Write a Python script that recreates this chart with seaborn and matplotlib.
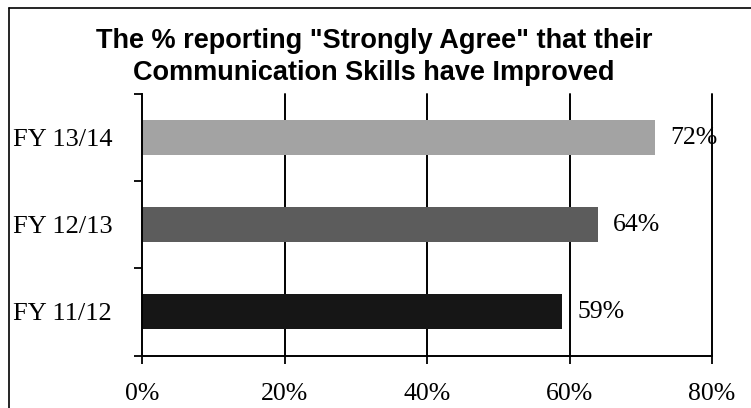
import matplotlib
matplotlib.use("Agg")
import matplotlib.pyplot as plt
from matplotlib.lines import Line2D
from matplotlib.ticker import FixedLocator
import seaborn as sns
import pandas as pd

# Survey results by fiscal year
years = ["FY 13/14", "FY 12/13", "FY 11/12"]
strongly_agree = [0.72, 0.64, 0.59]
value_labels = ["72%", "64%", "59%"]
x_ticks = [0.0, 0.2, 0.4, 0.6, 0.8]
x_tick_labels = ["0%", "20%", "40%", "60%", "80%"]
bar_colors = ["#a3a3a3", "#5c5c5c", "#161616"]

title = 'The % reporting "Strongly Agree" that their\nCommunication Skills have Improved'

sns.set_style("white")
plt.rcParams["font.family"] = ["Liberation Serif", "DejaVu Serif"]
plt.rcParams["text.color"] = "black"
plt.rcParams["xtick.color"] = "black"
plt.rcParams["ytick.color"] = "black"
plt.rcParams["axes.labelcolor"] = "black"

df = pd.DataFrame({"year": years, "pct": strongly_agree})

fig = plt.figure(figsize=(7.51, 4.08), dpi=100)
ax = fig.add_axes([142 / 751, 1 - 355.5 / 408, 570 / 751, 261.5 / 408])

# vertical gridlines behind the bars
for xv in x_ticks[1:]:
    ax.axvline(xv, color="black", lw=1.4, zorder=0, clip_on=False)

sns.barplot(data=df, x="pct", y="year", hue="year", palette=bar_colors,
            order=years, hue_order=years, width=0.4, orient="h",
            legend=False, ax=ax, zorder=2, edgecolor="none")

ax.set_xlim(0, 0.8)
ax.set_ylim(2.5, -0.5)
ax.set_xticks(x_ticks)
ax.set_xticklabels(x_tick_labels, fontsize=18.5)
ax.set_yticks(range(len(years)))
ax.set_yticklabels(years, fontsize=19)
ax.set_xlabel("")
ax.set_ylabel("")

# tick marks: outward on x, category dividers on y
ax.tick_params(axis="x", direction="out", length=6, width=1.3, pad=14, color="black", bottom=True)
ax.tick_params(axis="y", which="major", length=0, pad=21.5, left=True)
ax.yaxis.set_minor_locator(FixedLocator([-0.5, 0.5, 1.5, 2.5]))
ax.tick_params(axis="y", which="minor", direction="out", length=6, width=1.3, color="black", left=True)

for side in ["top", "right"]:
    ax.spines[side].set_visible(False)
for side in ["left", "bottom"]:
    ax.spines[side].set_color("black")
    ax.spines[side].set_linewidth(1.4)

# value annotations at the end of each bar
for i, (v, lab) in enumerate(zip(strongly_agree, value_labels)):
    ax.annotate(lab, xy=(v, i), xytext=(11, 0), textcoords="offset points",
                ha="left", va="center", fontsize=18.5, color="black", zorder=3,
                annotation_clip=False)

fig.text(374 / 751, 1 - 57 / 408, title, ha="center", va="center",
         fontsize=19.5, fontweight="bold", family=["Liberation Sans", "DejaVu Sans"],
         linespacing=1.3, color="black")

# outer frame lines along the top and left edge
fig.add_artist(Line2D([9 / 751, 1.0], [1 - 8 / 408, 1 - 8 / 408], color="black", lw=1.2,
                      transform=fig.transFigure))
fig.add_artist(Line2D([9 / 751, 9 / 751], [0, 1 - 8 / 408], color="black", lw=1.2,
                      transform=fig.transFigure))

fig.savefig("out.png", dpi=100, facecolor="white")
